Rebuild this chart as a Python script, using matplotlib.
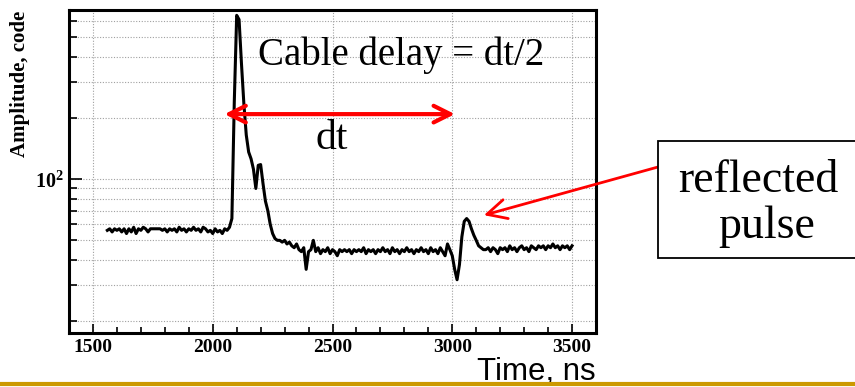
import numpy as np
import matplotlib
matplotlib.use("Agg")
import matplotlib.pyplot as plt
from matplotlib.patches import Rectangle
from matplotlib.lines import Line2D
from matplotlib.ticker import FixedLocator, NullFormatter

plt.rcParams['mathtext.fontset'] = 'custom'
plt.rcParams['mathtext.rm'] = 'Liberation Serif'
plt.rcParams['mathtext.bf'] = 'Liberation Serif:bold'

# sampled waveform, one point every 10 ns
t_start, t_stop, t_step = 1560, 3500, 10
baseline_1 = [56, 57, 55, 57, 56, 57, 55, 57, 54, 57, 55, 58, 54, 57, 56, 58,
              57, 55, 57, 57, 57, 57, 57, 56, 57, 55, 57, 56, 57, 55, 58, 56,
              57, 55, 57, 56, 58, 56, 57, 55, 58, 57, 55, 56, 54, 57, 55, 56,
              54, 57, 56, 58]
main_pulse = [64, 240, 640, 610, 370, 235, 165, 136, 126, 112, 90, 117, 118,
              95, 78, 70, 60, 54, 51, 50]
baseline_2 = [50, 49, 50, 48, 49, 47, 46, 48, 45, 44, 46, 36, 44, 45, 50, 44,
              46, 43, 45, 44, 46, 43, 45, 44, 42, 45, 44, 45, 44, 45, 43, 45,
              44, 45, 44, 46, 43, 45, 44, 45, 43, 45, 44, 46, 44, 45, 43, 46,
              44, 45, 43, 45, 44, 46, 44, 45, 43, 45, 44, 46, 44, 45, 43, 46,
              44, 45, 43, 46, 44, 42, 48, 45]
reflected = [42, 36, 32, 38, 52, 62, 64, 62, 57, 53, 50, 47, 46, 45]
baseline_3 = [45, 46, 44, 46, 45, 43, 46, 45, 46, 44, 47, 45, 46, 44, 46, 47,
              45, 46, 44, 47, 46, 45, 47, 46, 47, 45, 47, 46, 48, 46, 47, 45,
              47, 46, 47, 45, 47]

amplitude = np.array(baseline_1 + main_pulse + baseline_2 + reflected + baseline_3)
time_ns = np.arange(t_start, t_stop + 1, t_step)

x_major = [1500, 2000, 2500, 3000, 3500]
y_minor = [20, 30, 40, 50, 60, 70, 80, 90, 200, 300, 400, 500, 600]

fig = plt.figure(figsize=(8.55, 3.87), dpi=100)
ax = fig.add_axes([69 / 855, 1 - 333 / 387, 527 / 855, 323 / 387])

ax.plot(time_ns, amplitude, color='black', lw=2.2, zorder=3)

ax.set_yscale('log')
ax.set_xlim(1400, 3600)
ax.set_ylim(17.5, 680)

ax.xaxis.set_major_locator(FixedLocator(x_major))
ax.xaxis.set_minor_locator(FixedLocator(np.arange(1400, 3601, 100)))
ax.yaxis.set_major_locator(FixedLocator([100]))
ax.yaxis.set_minor_locator(FixedLocator(y_minor))
ax.yaxis.set_minor_formatter(NullFormatter())
ax.set_yticklabels([r'$\mathbf{10^{2}}$'])

ax.tick_params(axis='both', which='both', direction='in', top=False, right=False,
               width=1.2, color='black')
ax.tick_params(axis='x', which='major', length=6.5, pad=4)
ax.tick_params(axis='x', which='minor', length=4.3)
ax.tick_params(axis='y', which='major', length=9.5, pad=4, labelsize=14.5)
ax.tick_params(axis='y', which='minor', length=5.8)
for lab in ax.get_xticklabels():
    lab.set_fontfamily('Liberation Serif')
    lab.set_fontweight('bold')
    lab.set_fontsize(14)

grid_kw = dict(color='#a0a0a0', linestyle=(0, (1, 1.5)), lw=0.8)
ax.grid(True, axis='x', which='major', **grid_kw)
ax.grid(True, axis='y', which='both', **grid_kw)

for s in ax.spines.values():
    s.set_linewidth(2.2)

ax.text(-0.093, 0.77, 'Amplitude, code', transform=ax.transAxes, rotation=90,
        ha='center', va='center', fontfamily='Liberation Serif',
        fontweight='bold', fontsize=15)

# dt arrow
ax.annotate('', xy=(3011, 209), xytext=(2049, 209),
            arrowprops=dict(arrowstyle='<->,head_length=0.6,head_width=0.3',
                            color='red', lw=3, mutation_scale=20,
                            shrinkA=0, shrinkB=0), zorder=5)

fig.text(258 / 855, 1 - 65 / 387, 'Cable delay = dt/2', fontfamily='Liberation Serif',
         fontsize=28, ha='left', va='baseline')
fig.text(332 / 855, 1 - 149 / 387, 'dt', fontfamily='Liberation Serif',
         fontsize=30, ha='center', va='baseline')

# reflected pulse box
fig.add_artist(Rectangle((658 / 855, 1 - 258 / 387), 0.25, 117 / 387,
                         transform=fig.transFigure, facecolor='white',
                         edgecolor='black', lw=1.3))
fig.text(758 / 855, 1 - 192 / 387, 'reflected', fontfamily='Liberation Serif',
         fontsize=33, ha='center', va='baseline')
fig.text(767 / 855, 1 - 238 / 387, 'pulse', fontfamily='Liberation Serif',
         fontsize=33, ha='center', va='baseline')

ax.annotate('', xy=(3132, 66.5), xycoords='data',
            xytext=(658 / 855, 1 - 167 / 387), textcoords='figure fraction',
            arrowprops=dict(arrowstyle='->,head_length=0.7,head_width=0.35',
                            color='red', lw=2, mutation_scale=20,
                            shrinkA=0, shrinkB=0), zorder=5,
            annotation_clip=False)

fig.text(477 / 855, 1 - 380 / 387, 'Time, ns', fontfamily='Liberation Sans',
         fontsize=22.5, ha='left', va='baseline')

fig.add_artist(Line2D([0, 1], [1 - 383.5 / 387] * 2, transform=fig.transFigure,
                      color='#CC9900', lw=3, zorder=10))

fig.savefig('out.png', dpi=100)
